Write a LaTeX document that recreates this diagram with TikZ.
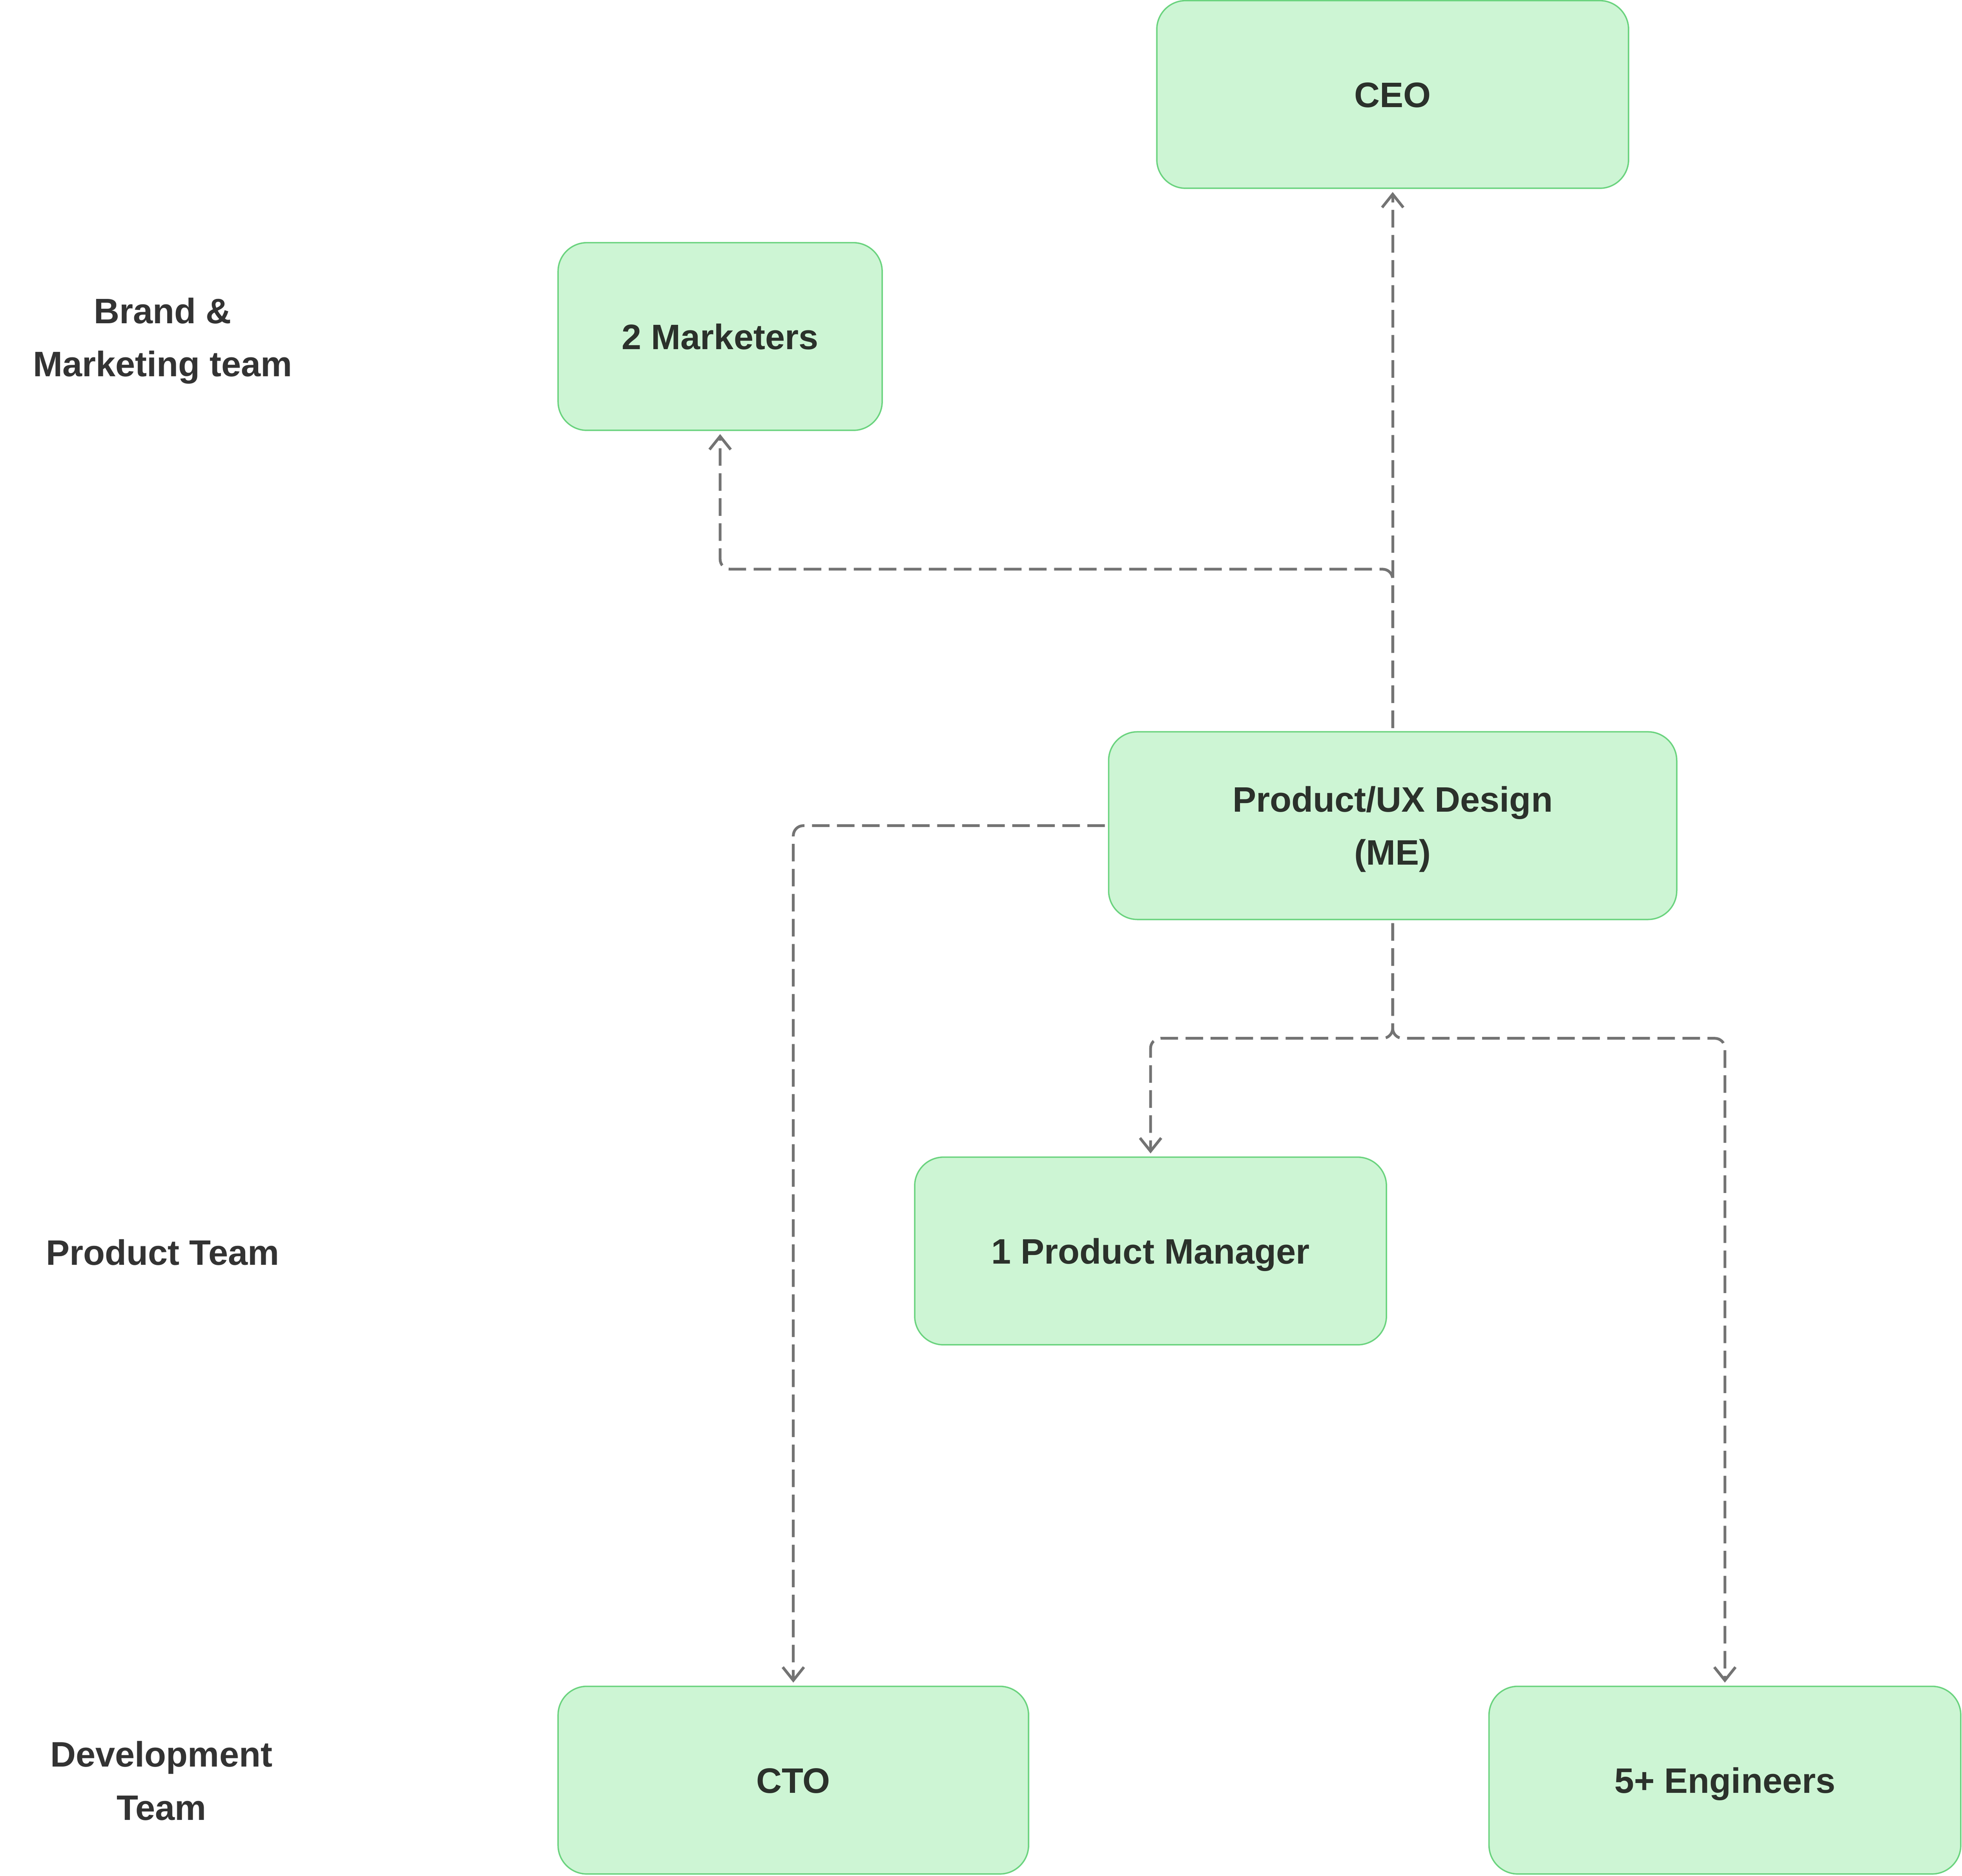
\documentclass[tikz,border=0pt]{standalone}
\usepackage{fontspec}
\setmainfont{Liberation Sans}
\usetikzlibrary{arrows.meta}

\newlength{\du}
\setlength{\du}{0.33087mm}

\definecolor{boxfillcolor}{HTML}{CDF5D4}
\definecolor{boxlinecolor}{HTML}{6AD37E}
\definecolor{boxtextcolor}{HTML}{2B312B}
\definecolor{labeltextcolor}{HTML}{333333}
\definecolor{linkcolor}{HTML}{737373}

\tikzset{
  rolebox/.style={draw=boxlinecolor, fill=boxfillcolor, line width=1.1\du,
    rounded corners=23\du, inner sep=0pt, outer sep=3\du,
    minimum height=150\du, align=center, text=boxtextcolor,
    text height=19.1pt, text depth=0pt,
    font=\fontsize{26.6pt}{40pt}\selectfont\bfseries},
  teamlabel/.style={align=center, text=labeltextcolor,
    font=\fontsize{26.6pt}{40pt}\selectfont\bfseries},
  link/.style={draw=linkcolor, line width=0.73mm, dash pattern=on 4.63mm off 1.99mm,
    rounded corners=2.65mm, -{Straight Barb[length=3.5mm,width=5.6mm]}}
}

\begin{document}
\begin{tikzpicture}[x=\du, y=-\du]
\useasboundingbox (0,0) rectangle (1568,1499.4);

% team labels
\node[teamlabel] (brandlabel) at (130,272.5) {Brand \&\\Marketing team};
\node[teamlabel] (productlabel) at (130,1001) {Product Team};
\node[teamlabel] (devlabel) at (129,1423.5) {Development\\Team};

% roles
\node[rolebox, minimum width=377\du] (ceo) at (1113,75.5) {CEO};
\node[rolebox, minimum width=259\du] (marketers) at (575.5,269) {2 Marketers};
\node[rolebox, minimum width=454\du, text height=59.1pt] (uxdesign) at (1113,660) {Product/UX Design\\(ME)};
\node[rolebox, minimum width=377\du] (pm) at (919.5,1000) {1 Product Manager};
\node[rolebox, minimum width=376\du] (cto) at (634,1423) {CTO};
\node[rolebox, minimum width=377\du] (engineers) at (1378.5,1423) {5+ Engineers};

\coordinate (upsplit) at (1113,455);
\coordinate (downsplit) at (1113,830);

% links
\draw[link] (uxdesign.north) -- (ceo.south);
\draw[link] (uxdesign.north) -- (upsplit) -| (marketers.south);
\draw[link] (uxdesign.west) -| (cto.north);
\draw[link] (uxdesign.south) -- (downsplit) -| (pm.north);
\draw[link] (uxdesign.south) -- (downsplit) -| (engineers.north);
\end{tikzpicture}
\end{document}
